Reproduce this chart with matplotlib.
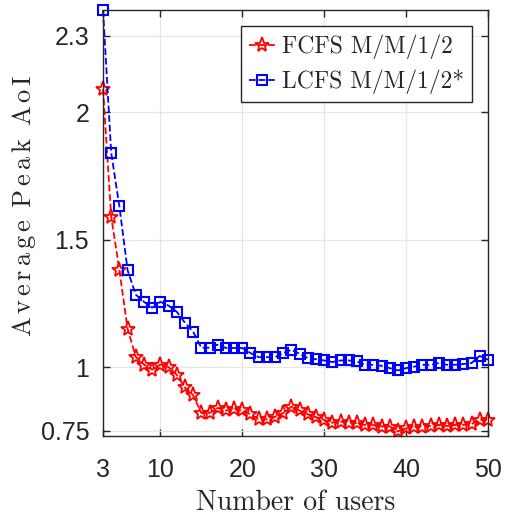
import matplotlib
matplotlib.use("Agg")
import matplotlib.pyplot as plt
import numpy as np

plt.rcParams['mathtext.fontset'] = 'cm'

# number of users in the system
users = list(range(3, 51))

# average peak AoI, FCFS M/M/1/2
fcfs = [2.09, 1.59, 1.38, 1.15, 1.04, 1.01, 0.99, 1.01, 1.00, 0.97,
        0.92, 0.89, 0.82, 0.82, 0.84, 0.83, 0.835, 0.83, 0.815, 0.795,
        0.795, 0.805, 0.82, 0.845, 0.83, 0.815, 0.804, 0.793, 0.782, 0.786,
        0.782, 0.780, 0.773, 0.773, 0.767, 0.767, 0.748, 0.760, 0.764, 0.767,
        0.769, 0.773, 0.769, 0.773, 0.773, 0.777, 0.793, 0.793]

# average peak AoI, LCFS M/M/1/2*
lcfs = [2.40, 1.84, 1.63, 1.38, 1.284, 1.256, 1.233, 1.256, 1.241, 1.217,
        1.174, 1.139, 1.076, 1.076, 1.088, 1.075, 1.075, 1.075, 1.055, 1.039,
        1.039, 1.039, 1.055, 1.068, 1.052, 1.035, 1.031, 1.026, 1.020, 1.026,
        1.026, 1.022, 1.009, 1.009, 1.005, 0.996, 0.987, 0.996, 1.002, 1.009,
        1.009, 1.016, 1.009, 1.009, 1.012, 1.016, 1.044, 1.029]

xticks = [3, 10, 20, 30, 40, 50]
yticks = [0.75, 1, 1.5, 2, 2.3]
ytick_labels = ['0.75', '1', '1.5', '2', '2.3']

serif = 'cmr10'
sans = 'Liberation Sans'

fig = plt.figure(figsize=(5.06, 5.31), dpi=100)
ax = fig.add_axes([0.2036, 0.179, 0.7608, 0.802])

ax.plot(users, fcfs, '--', color='#ff0000', lw=1.3, marker='*', ms=11,
        mfc='none', mec='#ff0000', mew=1.3, label='FCFS M/M/1/2', clip_on=False)
ax.plot(users, lcfs, '--', color='#0000ff', lw=1.3, marker='s', ms=7,
        mfc='none', mec='#0000ff', mew=1.5, label='LCFS M/M/1/2*', clip_on=False)

ax.set_xlim(3, 50)
ax.set_ylim(0.73, 2.40)
ax.set_xticks(xticks)
ax.set_yticks(yticks)
ax.set_yticklabels(ytick_labels)

ax.grid(True, color='#e6e6e6', lw=0.9)
ax.set_axisbelow(True)
for s in ax.spines.values():
    s.set_color('#262626')
    s.set_linewidth(1.0)
ax.tick_params(direction='in', top=True, right=True, length=5, width=1.0,
               color='#262626', labelcolor='#262626')
ax.tick_params(axis='x', pad=16)
ax.tick_params(axis='y', pad=10)
for lab in ax.get_xticklabels() + ax.get_yticklabels():
    lab.set_fontfamily(sans)
    lab.set_fontsize(18)

ax.set_xlabel('Number of users', fontfamily=serif, fontsize=20, color='#262626')
ax.xaxis.set_label_coords(0.5, -0.125)
# letter-spaced y label, set in Computer Modern
ax.set_ylabel(r'$\mathrm{A\,v\,e\,r\,a\,g\,e\;\;P\,e\,a\,k\;\;A\,o\,I}$',
              fontsize=19, color='#262626')
ax.yaxis.set_label_coords(-0.17, 0.54)

leg = ax.legend(loc='upper right', prop={'family': serif, 'size': 17},
                handlelength=1.1, handletextpad=0.3, borderpad=0.35,
                labelspacing=0.45, fancybox=False, framealpha=1,
                bbox_to_anchor=(0.99, 0.99))
leg.get_frame().set_edgecolor('#262626')
leg.get_frame().set_linewidth(1.0)
for t in leg.get_texts():
    t.set_color('#262626')

fig.savefig('out.png', dpi=100)
